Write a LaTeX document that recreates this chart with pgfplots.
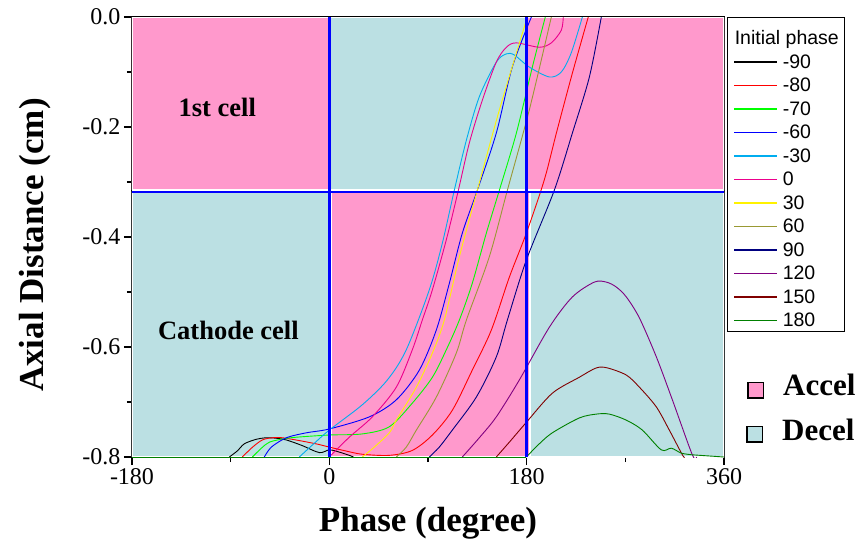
\documentclass[border=0pt]{standalone}
\usepackage{pgfplots}
\pgfplotsset{compat=1.18}
\usepackage{fontspec}
\setmainfont{Liberation Serif}
\newfontfamily\arialfont{Liberation Sans}
\definecolor{accel}{RGB}{255,153,204}
\definecolor{decel}{RGB}{187,224,227}
\definecolor{c70}{RGB}{0,255,0}
\definecolor{c60}{RGB}{153,153,51}
\definecolor{c90}{RGB}{0,0,128}
\definecolor{c120}{RGB}{128,0,128}
\definecolor{c150}{RGB}{128,0,0}
\definecolor{c180}{RGB}{0,128,0}
\newcommand\ls{\rule[-2pt]{0pt}{16pt}}
\begin{document}
\begin{tikzpicture}
\begin{axis}[
  at={(0,0)}, anchor=south west,
  scale only axis, width=592pt, height=440pt,
  xmin=-180, xmax=360, ymin=-0.8, ymax=0,
  xtick={-180,0,180,360}, minor xtick={-90,90,270},
  ytick={-0.8,-0.6,-0.4,-0.2,0}, minor ytick={-0.7,-0.5,-0.3,-0.1},
  xtick pos=left, ytick pos=left,
  tick align=outside, major tick length=8pt, minor tick length=5pt,
  axis line style={line width=2pt},
  every tick/.style={black, line width=1.5pt},
  /pgf/number format/assume math mode=true,
  tick label style={font=\fontsize{24}{24}\selectfont},
  yticklabel style={/pgf/number format/.cd, fixed, fixed zerofill, precision=1},
  xlabel={Phase (degree)}, ylabel={Axial Distance (cm)},
  label style={font=\fontsize{35}{35}\selectfont\bfseries},
  xlabel style={at={([yshift=-66pt]rel axis cs:0.5,0)}, anchor=center},
  ylabel style={at={([xshift=-97pt,yshift=-8pt]rel axis cs:0,0.5)}, anchor=center},
  every axis plot/.append style={line width=0.9pt},
  legend image code/.code={\draw[#1, line width=1.4pt] (0pt,0pt) -- (43pt,0pt);},
  legend cell align=left,
  legend style={at={(1,1)}, anchor=north west, xshift=3pt, draw=black, line width=0.8pt,
    fill=white, font=\arialfont\fontsize{19.5}{19.5}\selectfont,
    inner xsep=6pt, inner ysep=2.5pt, row sep=8pt, column sep=5pt,
    nodes={inner sep=0pt}},
]
% background regions
\addplot[fill=accel, draw=white, line width=1.5pt, forget plot] coordinates {(-180,-0.3145) (0,-0.3145) (0,0) (-180,0) (-180,-0.3145)};
\addplot[fill=decel, draw=white, line width=1.5pt, forget plot] coordinates {(0,-0.3145) (180,-0.3145) (180,0) (0,0) (0,-0.3145)};
\addplot[fill=accel, draw=white, line width=1.5pt, forget plot] coordinates {(180,-0.3145) (360,-0.3145) (360,0) (180,0) (180,-0.3145)};
\addplot[fill=decel, draw=white, line width=1.5pt, forget plot] coordinates {(-180,-0.8) (0,-0.8) (0,-0.318) (-180,-0.318) (-180,-0.8)};
\addplot[fill=accel, draw=white, line width=1.5pt, forget plot] coordinates {(1.8,-0.8) (183,-0.8) (183,-0.318) (1.8,-0.318) (1.8,-0.8)};
\addplot[fill=decel, draw=white, line width=1.5pt, forget plot] coordinates {(183,-0.8) (360,-0.8) (360,-0.318) (183,-0.318) (183,-0.8)};
% legend title
\addlegendimage{empty legend}
\addlegendentry{\hspace*{-48pt}\rule[-2pt]{0pt}{27pt}Initial phase}
% curves
\addplot[black, smooth] coordinates {(-91.2,-0.800) (-84,-0.789) (-77.5,-0.776) (-67,-0.768) (-57.5,-0.765) (-48,-0.766) (-39.2,-0.769) (-25,-0.779) (-9.1,-0.792) (0,-0.787) (9,-0.791) (18.2,-0.797) (22,-0.800)};
\addlegendentry{\ls-90}
\addplot[red, smooth] coordinates {(-79.4,-0.800) (-70,-0.782) (-61.1,-0.769) (-52,-0.765) (-42.9,-0.765) (-25,-0.771) (-10,-0.777) (0,-0.782) (15,-0.789) (30.1,-0.795) (54.7,-0.797) (75.7,-0.788) (94.0,-0.760) (112.2,-0.715) (130.4,-0.642) (147.8,-0.569) (164.2,-0.473) (179.7,-0.393) (196.1,-0.296) (207.1,-0.211) (221.7,-0.102) (236.2,0)};
\addlegendentry{\ls-80}
\addplot[c70, smooth] coordinates {(-70.2,-0.800) (-62,-0.784) (-54.7,-0.773) (-42,-0.767) (-30.1,-0.764) (0,-0.760) (30.1,-0.758) (54.7,-0.745) (75.7,-0.702) (94.0,-0.655) (106.7,-0.605) (118.6,-0.551) (130.4,-0.484) (143.2,-0.393) (155.1,-0.315) (170.6,-0.211) (185.2,-0.091) (197.0,0)};
\addlegendentry{\ls-70}
\addplot[blue, smooth] coordinates {(-59.3,-0.800) (-52.9,-0.782) (-39.2,-0.765) (-21.0,-0.756) (0,-0.749) (36.5,-0.727) (61.1,-0.696) (82.1,-0.642) (97.6,-0.569) (109.5,-0.484) (121.3,-0.393) (135.0,-0.315) (152.3,-0.211) (166.9,-0.091) (184.3,0)};
\addlegendentry{\ls-60}
\addplot[cyan, smooth] coordinates {(-27.4,-0.800) (-13.7,-0.775) (0,-0.751) (30.1,-0.705) (52.9,-0.660) (70.2,-0.605) (91.2,-0.496) (103.1,-0.411) (114.0,-0.315) (125.0,-0.224) (136.8,-0.145) (152.3,-0.082) (161.5,-0.067) (168.7,-0.069) (182.4,-0.091) (200.7,-0.109) (211.6,-0.100) (220.7,-0.065) (230.8,0)};
\addlegendentry{\ls-30}
\addplot[magenta, smooth] coordinates {(0,-0.800) (18.2,-0.764) (39.2,-0.727) (61.1,-0.673) (75.7,-0.605) (84.8,-0.551) (94.0,-0.496) (106.7,-0.405) (117.7,-0.315) (127.7,-0.229) (139.6,-0.151) (152.3,-0.082) (161.5,-0.055) (170.6,-0.047) (191.6,-0.055) (202.5,-0.047) (211.6,-0.024) (213.4,0)};
\addlegendentry{\ls 0}
\addplot[yellow, smooth] coordinates {(30.1,-0.800) (41.0,-0.782) (54.7,-0.756) (61.1,-0.733) (79.4,-0.673) (94.0,-0.611) (104.9,-0.551) (118.6,-0.436) (135.0,-0.315) (155.1,-0.169) (180.6,0)};
\addlegendentry{\ls 30}
\addplot[c60, smooth] coordinates {(61.1,-0.800) (70.2,-0.782) (79.4,-0.751) (97.6,-0.691) (115.8,-0.611) (125.0,-0.551) (145.9,-0.436) (162.4,-0.315) (182.4,-0.169) (202.5,0)};
\addlegendentry{\ls 60}
\addplot[c90, smooth] coordinates {(91.2,-0.800) (100.3,-0.782) (112.2,-0.751) (134.1,-0.691) (152.3,-0.618) (162.4,-0.551) (179.7,-0.442) (205.2,-0.315) (221.7,-0.211) (237.2,-0.109) (248.1,0)};
\addlegendentry{\ls 90}
\addplot[c120, smooth] coordinates {(121.3,-0.800) (136.8,-0.765) (152.3,-0.727) (173.3,-0.660) (200.7,-0.564) (221.7,-0.509) (241.7,-0.482) (252.7,-0.482) (261.8,-0.491) (270.9,-0.509) (282.8,-0.547) (298.3,-0.618) (312.9,-0.696) (331.1,-0.796) (335,-0.800)};
\addlegendentry{\ls 120}
\addplot[c150, smooth] coordinates {(152.3,-0.800) (164.2,-0.773) (179.7,-0.737) (203.4,-0.684) (228.0,-0.655) (243.5,-0.638) (253.6,-0.638) (270.9,-0.651) (282.8,-0.673) (298.3,-0.709) (310.1,-0.751) (322.0,-0.796) (324,-0.800)};
\addlegendentry{\ls 150}
\addplot[c180, forget plot] coordinates {(-180,-0.800) (179.7,-0.800)};
\addplot[c180, forget plot] coordinates {(331.1,-0.796) (360,-0.800)};
\addplot[c180, smooth] coordinates {(179.7,-0.800) (191,-0.777) (203.4,-0.756) (228.0,-0.729) (243.5,-0.722) (255.4,-0.722) (270.9,-0.733) (285.5,-0.751) (302.8,-0.787) (312.0,-0.784) (321.1,-0.793) (331.1,-0.796)};
\addlegendentry{\ls 180}
% blue cell boundaries
\addplot[blue, line width=2.5pt, forget plot] coordinates {(0,-0.8) (0,0)};
\addplot[blue, line width=2.5pt, forget plot] coordinates {(180,-0.8) (180,0)};
\addplot[blue, line width=2.5pt, forget plot] coordinates {(-180,-0.318) (360,-0.318)};
\node[font=\fontsize{26.5}{26.5}\selectfont\bfseries] at (axis cs:-102.2,-0.1636) {1st cell};
\node[font=\fontsize{26.5}{26.5}\selectfont\bfseries] at (axis cs:-92.1,-0.569) {Cathode cell};
\end{axis}
\setlength\fboxrule{1.5pt}\setlength\fboxsep{0pt}
\node[anchor=base west, inner sep=0pt, font=\fontsize{31}{31}\selectfont\bfseries] at (615pt,62pt)
  {\raisebox{-2pt}{\fcolorbox{black}{accel}{\rule{0pt}{14pt}\hspace{14pt}}}\hspace{19pt}Accel};
\node[anchor=base west, inner sep=0pt, font=\fontsize{31}{31}\selectfont\bfseries] at (614pt,17pt)
  {\raisebox{-1pt}{\fcolorbox{black}{decel}{\rule{0pt}{14pt}\hspace{14pt}}}\hspace{19pt}Decel};
\pgfresetboundingbox
\path[use as bounding box] (-132pt,-93pt) rectangle (734pt,457pt);
\end{tikzpicture}
\end{document}
